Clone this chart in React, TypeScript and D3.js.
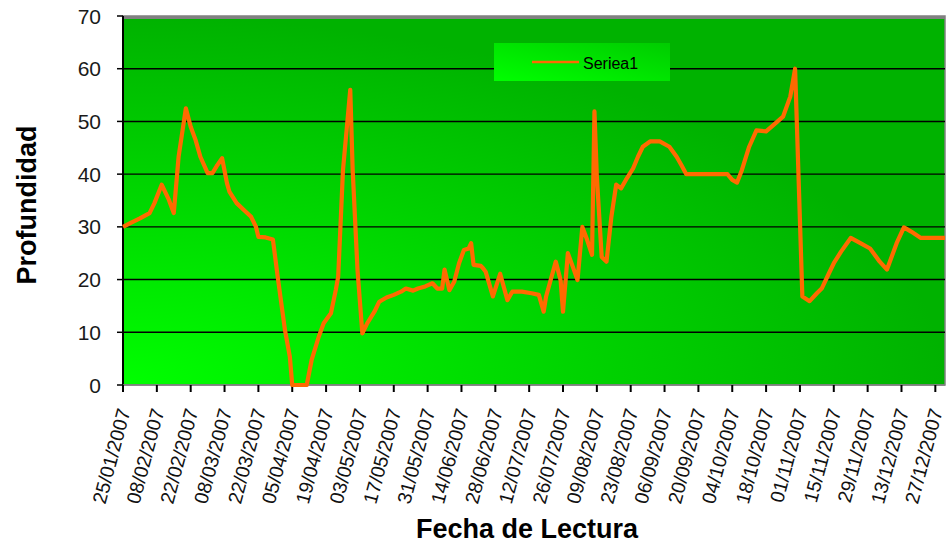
import React, { useEffect, useRef } from "react";
import * as d3 from "d3";

// fechas de lectura (dd/mm/2007) y profundidad leida
const fechas = [
  "25/01", "28/01", "01/02", "05/02", "07/02", "10/02", "13/02", "15/02", "17/02", "20/02",
  "22/02", "24/02", "26/02", "01/03", "03/03", "05/03", "07/03", "09/03", "10/03", "13/03",
  "16/03", "19/03", "21/03", "22/03", "25/03", "28/03", "30/03", "02/04", "04/04", "05/04",
  "11/04", "13/04", "16/04", "18/04", "21/04", "23/04", "24/04", "26/04", "29/04", "30/04",
  "02/05", "04/05", "06/05", "09/05", "11/05", "14/05", "17/05", "20/05", "22/05", "25/05",
  "27/05", "30/05", "02/06", "04/06", "06/06", "07/06", "09/06", "11/06", "13/06", "15/06",
  "17/06", "18/06", "19/06", "22/06", "23/06", "24/06", "27/06", "30/06", "03/07", "05/07",
  "09/07", "13/07", "16/07", "18/07", "19/07", "23/07", "25/07", "26/07", "28/07", "30/07",
  "01/08", "03/08", "05/08", "07/08", "08/08", "09/08", "11/08", "13/08", "15/08", "17/08",
  "19/08", "21/08", "24/08", "26/08", "28/08", "31/08", "04/09", "08/09", "11/09", "13/09",
  "15/09", "02/10", "04/10", "06/10", "08/10", "11/10", "14/10", "18/10", "21/10", "25/10",
  "28/10", "30/10", "02/11", "05/11", "08/11", "10/11", "13/11", "15/11", "18/11", "22/11",
  "26/11", "30/11", "04/12", "07/12", "11/12", "14/12", "17/12", "21/12", "31/12",
];

const profundidad = [
  30.0, 30.7, 31.6, 32.6, 34.5, 38.0, 35.1, 32.6, 43.3, 52.5,
  49.0, 46.5, 43.3, 40.2, 40.2, 41.7, 43.0, 38.3, 36.7, 34.5,
  33.2, 31.9, 30.0, 28.1, 28.0, 27.6, 20.5, 10.4, 5.4, 0,
  0, 4.7, 9.2, 11.7, 13.6, 18.0, 20.5, 40.8, 56.0, 40.8,
  21.8, 9.8, 11.7, 13.9, 15.8, 16.6, 17.1, 17.7, 18.3, 17.9,
  18.3, 18.7, 19.3, 18.3, 18.3, 21.9, 18.0, 19.6, 23.1, 25.6,
  25.9, 26.9, 22.8, 22.6, 22.1, 21.5, 16.8, 21.1, 16.1, 17.7,
  17.7, 17.4, 17.1, 13.9, 16.8, 23.4, 19.9, 13.9, 25.0, 22.5,
  19.9, 30.0, 27.5, 24.7, 51.9, 39.5, 24.3, 23.4, 31.9, 38.0,
  37.3, 38.9, 41.1, 43.3, 45.2, 46.2, 46.2, 45.2, 43.3, 41.7,
  40.0, 40.0, 38.9, 38.4, 40.8, 45.2, 48.3, 48.1, 49.3, 50.9,
  54.7, 60.0, 16.8, 15.9, 17.4, 18.3, 21.2, 23.1, 25.3, 27.9,
  26.9, 25.9, 23.4, 21.9, 26.9, 29.9, 29.1, 27.9, 27.9,
];

const xTickLabels = [
  "25/01/2007", "08/02/2007", "22/02/2007", "08/03/2007", "22/03/2007", "05/04/2007",
  "19/04/2007", "03/05/2007", "17/05/2007", "31/05/2007", "14/06/2007", "28/06/2007",
  "12/07/2007", "26/07/2007", "09/08/2007", "23/08/2007", "06/09/2007", "20/09/2007",
  "04/10/2007", "18/10/2007", "01/11/2007", "15/11/2007", "29/11/2007", "13/12/2007",
  "27/12/2007",
];

const yTicks = [0, 10, 20, 30, 40, 50, 60, 70];

const seriesName = "Seriea1";

const App = () => {
  const ref = useRef<SVGSVGElement>(null);
  const width = 946;
  const height = 545;
  const margin = { top: 16, right: 1, bottom: 160, left: 123 };
  const font = "'Liberation Sans', Arial, sans-serif";

  useEffect(() => {
    const svg = d3.select(ref.current);
    svg.selectAll("*").remove();

    const parse = d3.timeParse("%d/%m/%Y");
    const data = fechas.map((f, i) => ({ date: parse(f + "/2007") as Date, v: profundidad[i] }));

    const x = d3
      .scaleTime()
      .domain([parse("25/01/2007") as Date, parse("31/12/2007") as Date])
      .range([margin.left, width - margin.right]);
    const y = d3
      .scaleLinear()
      .domain([0, 70])
      .range([height - margin.bottom, margin.top]);

    const x0 = margin.left;
    const x1 = width - margin.right;
    const y0 = height - margin.bottom;
    const y1 = margin.top;

    const defs = svg.append("defs");
    const bg = defs
      .append("radialGradient")
      .attr("id", "bgGrad")
      .attr("cx", 0)
      .attr("cy", 1)
      .attr("fx", 0)
      .attr("fy", 1)
      .attr("r", 1);
    bg.append("stop").attr("offset", "0%").attr("stop-color", "#00ff00");
    bg.append("stop").attr("offset", "45%").attr("stop-color", "#00dc00");
    bg.append("stop").attr("offset", "100%").attr("stop-color", "#00b200");

    const lg = defs
      .append("linearGradient")
      .attr("id", "legGrad")
      .attr("x1", 0)
      .attr("y1", 1)
      .attr("x2", 1)
      .attr("y2", 0);
    lg.append("stop").attr("offset", "0%").attr("stop-color", "#00ff00");
    lg.append("stop").attr("offset", "100%").attr("stop-color", "#00cc00");

    // area de trazado
    svg
      .append("rect")
      .attr("x", x0)
      .attr("y", y1)
      .attr("width", x1 - x0)
      .attr("height", y0 - y1)
      .attr("fill", "url(#bgGrad)")
      .attr("stroke", "#808080")
      .attr("stroke-width", 1.5);
    svg
      .append("line")
      .attr("x1", x0)
      .attr("x2", x1)
      .attr("y1", y1 + 1.5)
      .attr("y2", y1 + 1.5)
      .attr("stroke", "#808080")
      .attr("stroke-width", 3);

    // lineas de division
    svg
      .selectAll(".grid")
      .data(yTicks.filter((t) => t > 0 && t < 70))
      .enter()
      .append("line")
      .attr("x1", x0)
      .attr("x2", x1)
      .attr("y1", (d) => y(d))
      .attr("y2", (d) => y(d))
      .attr("stroke", "#000")
      .attr("stroke-width", 1.4);

    // eje Y
    svg
      .append("line")
      .attr("x1", x0)
      .attr("x2", x0)
      .attr("y1", y1)
      .attr("y2", y0 + 7)
      .attr("stroke", "#000")
      .attr("stroke-width", 2);
    svg
      .selectAll(".ytick")
      .data(yTicks)
      .enter()
      .append("line")
      .attr("x1", x0 - 6)
      .attr("x2", x0)
      .attr("y1", (d) => y(d))
      .attr("y2", (d) => y(d))
      .attr("stroke", "#000")
      .attr("stroke-width", 1.5);
    svg
      .selectAll(".ylab")
      .data(yTicks)
      .enter()
      .append("text")
      .attr("x", 101)
      .attr("y", (d) => y(d))
      .attr("dy", "0.36em")
      .attr("text-anchor", "end")
      .attr("font-family", font)
      .attr("font-size", 21)
      .attr("fill", "#1a1a1a")
      .text((d) => d);

    // eje X
    const tickDates = xTickLabels.map((s) => parse(s) as Date);
    svg
      .append("line")
      .attr("x1", x0)
      .attr("x2", x1)
      .attr("y1", y0)
      .attr("y2", y0)
      .attr("stroke", "#808080")
      .attr("stroke-width", 1.5);
    svg
      .selectAll(".xtick")
      .data(tickDates)
      .enter()
      .append("line")
      .attr("x1", (d) => x(d))
      .attr("x2", (d) => x(d))
      .attr("y1", y0)
      .attr("y2", y0 + 7)
      .attr("stroke", "#000")
      .attr("stroke-width", 2);
    svg
      .selectAll(".xlab")
      .data(xTickLabels)
      .enter()
      .append("text")
      .attr("transform", (d) => `translate(${x(parse(d) as Date) + 1},${y0 + 24}) rotate(-75)`)
      .attr("dy", "0.35em")
      .attr("text-anchor", "end")
      .attr("font-family", font)
      .attr("font-size", 19.5)
      .attr("fill", "#111")
      .text((d) => d);

    // serie
    const line = d3
      .line<{ date: Date; v: number }>()
      .x((d) => x(d.date))
      .y((d) => y(d.v));
    svg
      .append("path")
      .datum(data)
      .attr("d", line)
      .attr("fill", "none")
      .attr("stroke", "#ff6a00")
      .attr("stroke-width", 4.2)
      .attr("stroke-linejoin", "round");

    // leyenda
    svg
      .append("rect")
      .attr("x", 494)
      .attr("y", 43)
      .attr("width", 176)
      .attr("height", 38)
      .attr("fill", "url(#legGrad)");
    svg
      .append("line")
      .attr("x1", 532)
      .attr("x2", 579)
      .attr("y1", 62)
      .attr("y2", 62)
      .attr("stroke", "#ff6a00")
      .attr("stroke-width", 2.5);
    svg
      .append("text")
      .attr("x", 583)
      .attr("y", 69)
      .attr("font-family", font)
      .attr("font-size", 16)
      .attr("fill", "#000")
      .text(seriesName);

    // titulos
    svg
      .append("text")
      .attr("transform", `translate(36,205) rotate(-90)`)
      .attr("text-anchor", "middle")
      .attr("font-family", font)
      .attr("font-weight", "bold")
      .attr("font-size", 27)
      .attr("fill", "#000")
      .text("Profundidad");
    svg
      .append("text")
      .attr("x", 527)
      .attr("y", 538)
      .attr("text-anchor", "middle")
      .attr("font-family", font)
      .attr("font-weight", "bold")
      .attr("font-size", 27)
      .attr("fill", "#000")
      .text("Fecha de Lectura");
  }, []);

  return (
    <svg
      ref={ref}
      width={width}
      height={height}
      style={{ position: "absolute", left: 0, top: 0, background: "#fff" }}
    />
  );
};

export default App;
